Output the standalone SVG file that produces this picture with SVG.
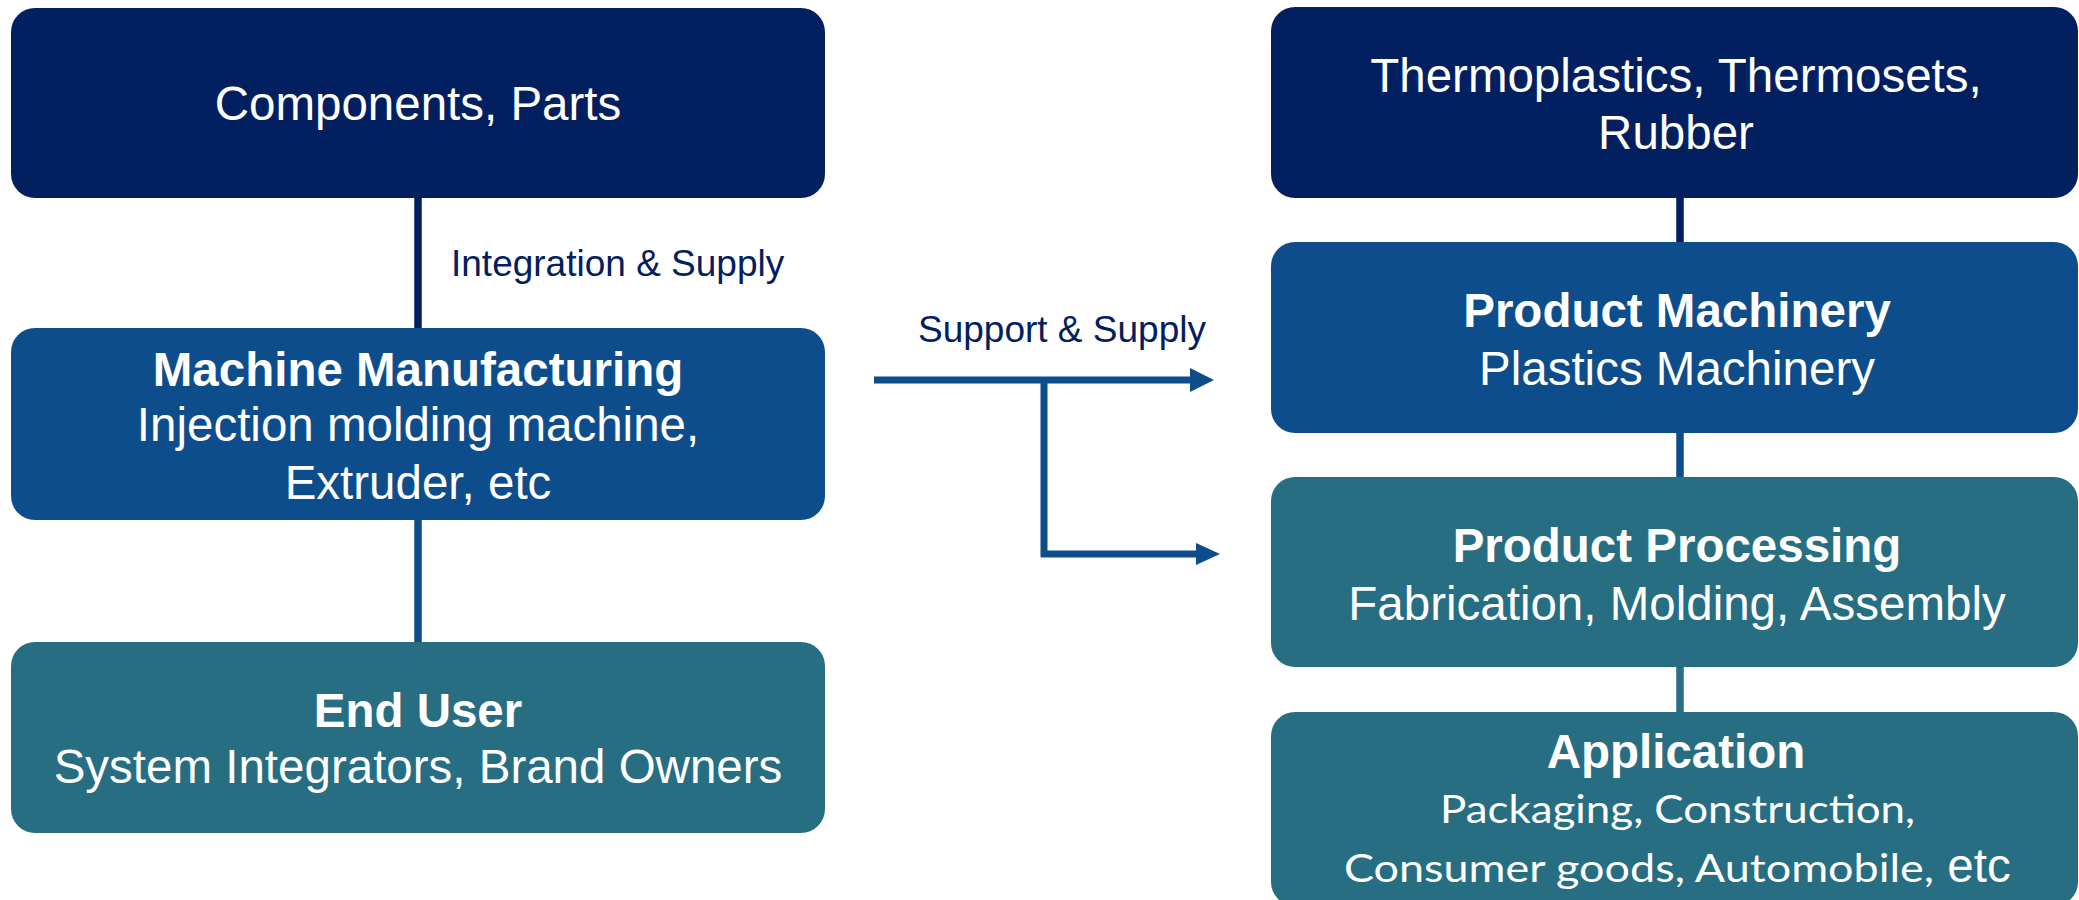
<svg xmlns="http://www.w3.org/2000/svg" width="2079" height="900" viewBox="0 0 2079 900">
  <style>
    .navy { fill: #02205f; }
    .blue { fill: #0e4d8b; }
    .teal { fill: #276e82; }
    .t { font-family: "Liberation Sans", Arial, sans-serif; font-size: 47.5px; fill: #ffffff; text-anchor: middle; }
    .b { font-weight: bold; }
    .c { font-family: Lato, "Liberation Sans", sans-serif; font-size: 39px; fill: #ffffff; }
    .lbl { font-family: "Liberation Sans", Arial, sans-serif; font-size: 37px; fill: #02205f; }
    .ln { fill: none; stroke-width: 7.5; }
  </style>
  <rect width="2079" height="900" fill="#ffffff"/>

  <g id="connectors">
    <line class="ln" x1="418" y1="196" x2="418" y2="330" stroke="#02205f"/>
    <line class="ln" x1="418" y1="518" x2="418" y2="644" stroke="#0e4d8b"/>
    <line class="ln" x1="1680" y1="196" x2="1680" y2="244" stroke="#02205f"/>
    <line class="ln" x1="1680" y1="431" x2="1680" y2="479" stroke="#0e4d8b"/>
    <line class="ln" x1="1680" y1="665" x2="1680" y2="714" stroke="#276e82"/>
    <g id="support-arrows">
      <line x1="874" y1="380" x2="1192" y2="380" stroke="#0e4d8b" stroke-width="7"/>
      <polygon points="1190,368 1214,380 1190,392" fill="#0e4d8b"/>
      <line x1="1044" y1="377" x2="1044" y2="557" stroke="#0e4d8b" stroke-width="7"/>
      <line x1="1041" y1="554" x2="1198" y2="554" stroke="#0e4d8b" stroke-width="7"/>
      <polygon points="1196,543 1220,554 1196,565" fill="#0e4d8b"/>
    </g>
    <text class="lbl" x="451" y="276">Integration &amp; Supply</text>
    <text class="lbl" x="918" y="342">Support &amp; Supply</text>
  </g>

  <g id="components">
    <rect class="navy" x="11" y="8" width="814" height="190" rx="24"/>
    <text class="t" x="418" y="120">Components, Parts</text>
  </g>

  <g id="machine-manufacturing">
    <rect class="blue" x="11" y="328" width="814" height="192" rx="24"/>
    <text class="t b" x="418" y="386">Machine Manufacturing</text>
    <text class="t" x="418" y="441">Injection molding machine,</text>
    <text class="t" x="418" y="499">Extruder, etc</text>
  </g>

  <g id="end-user">
    <rect class="teal" x="11" y="642" width="814" height="191" rx="24"/>
    <text class="t b" x="418" y="727">End User</text>
    <text class="t" x="418" y="783">System Integrators, Brand Owners</text>
  </g>

  <g id="materials">
    <rect class="navy" x="1271" y="7" width="807" height="191" rx="24"/>
    <text class="t" x="1676" y="92">Thermoplastics, Thermosets,</text>
    <text class="t" x="1676" y="149">Rubber</text>
  </g>

  <g id="product-machinery">
    <rect class="blue" x="1271" y="242" width="807" height="191" rx="24"/>
    <text class="t b" x="1677" y="327">Product Machinery</text>
    <text class="t" x="1677" y="385">Plastics Machinery</text>
  </g>

  <g id="product-processing">
    <rect class="teal" x="1271" y="477" width="807" height="190" rx="24"/>
    <text class="t b" x="1677" y="562">Product Processing</text>
    <text class="t" x="1677" y="620">Fabrication, Molding, Assembly</text>
  </g>

  <g id="application">
    <rect class="teal" x="1271" y="712" width="807" height="194" rx="24"/>
    <text class="t b" x="1676" y="768">Application</text>
    <text class="c" x="1440" y="823" textLength="475" lengthAdjust="spacingAndGlyphs">Packaging, Construction,</text>
    <text class="c" x="1344" y="882" textLength="590" lengthAdjust="spacingAndGlyphs">Consumer goods, Automobile,</text>
    <text class="t" x="1979" y="882">etc</text>
  </g>
</svg>
